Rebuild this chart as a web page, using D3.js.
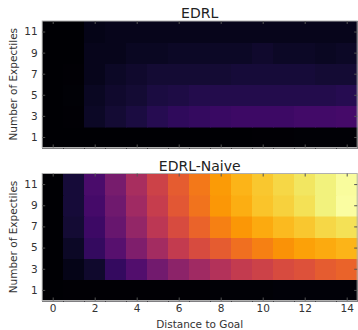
<!DOCTYPE html>
<html>
<head>
<meta charset="utf-8">
<script src="https://cdn.jsdelivr.net/npm/d3@7"></script>
<style>
  html, body { margin: 0; padding: 0; background: #fff; }
  svg { display: block; font-family: "DejaVu Sans", sans-serif; }
</style>
</head>
<body>
<svg id="chart" width="358" height="330"></svg>
<script>
// ---- data ----
const distances = [0,1,2,3,4,5,6,7,8,9,10,11,12,13,14];
const expectiles = [1,3,5,7,9,11];
const xTickValues = [0,2,4,6,8,10,12,14];
const yTickValues = [1,3,5,7,9,11];
const titles = ["EDRL", "EDRL-Naive"];

// EDRL: rows by number of expectiles (1,3,5,7,9,11), columns by distance 0..14
const edrl1  = [0,0,0,0,0,0,0,0,0,0,0.005,0.005,0.01,0.01,0.01];
const edrl3  = [0,0.005,0.07,0.09,0.11,0.14,0.16,0.17,0.18,0.19,0.19,0.19,0.2,0.2,0.21];
const edrl5  = [0,0.01,0.06,0.08,0.09,0.11,0.12,0.13,0.13,0.13,0.13,0.13,0.13,0.13,0.14];
const edrl7  = [0,0.005,0.05,0.07,0.08,0.09,0.09,0.09,0.09,0.1,0.1,0.1,0.1,0.09,0.09];
const edrl9  = [0,0,0.05,0.05,0.06,0.06,0.07,0.07,0.07,0.07,0.08,0.07,0.07,0.06,0.07];
const edrl11 = [0,0,0.04,0.05,0.05,0.05,0.05,0.05,0.05,0.05,0.05,0.05,0.05,0.05,0.05];

// EDRL-Naive
const naive1  = [0,0.005,0.005,0.005,0.005,0.005,0.005,0.005,0.01,0.01,0.01,0.015,0.015,0.015,0.015];
const naive3  = [0,0.04,0.08,0.17,0.24,0.32,0.38,0.43,0.48,0.52,0.55,0.58,0.6,0.63,0.65];
const naive5  = [0,0.07,0.17,0.25,0.35,0.44,0.52,0.58,0.63,0.68,0.72,0.76,0.79,0.81,0.83];
const naive7  = [0,0.09,0.19,0.29,0.4,0.5,0.58,0.65,0.72,0.77,0.81,0.84,0.87,0.9,0.92];
const naive9  = [0,0.1,0.21,0.31,0.43,0.53,0.62,0.69,0.77,0.82,0.86,0.89,0.92,0.96,0.995];
const naive11 = [0,0.1,0.22,0.33,0.45,0.55,0.63,0.7,0.78,0.83,0.87,0.9,0.93,0.96,0.99];

const edrlRows  = [edrl1, edrl3, edrl5, edrl7, edrl9, edrl11];
const naiveRows = [naive1, naive3, naive5, naive7, naive9, naive11];

// ---- build cells ----
function cells(rows) {
  const out = [];
  rows.forEach((row, i) => row.forEach((v, j) => out.push({ d: distances[j], e: expectiles[i], v })));
  return out;
}
const panels = [
  { title: titles[0], data: cells(edrlRows), top: 21, bottom: 147.5, showX: false },
  { title: titles[1], data: cells(naiveRows), top: 173.5, bottom: 300.5, showX: true }
];

const svg = d3.select("#chart");
const color = d3.scaleSequential(d3.interpolateInferno).domain([0, 1]);
const x = d3.scaleLinear().domain([-0.5, 14.5]).range([42.2, 357.2]);

panels.forEach(p => {
  const y = d3.scaleLinear().domain([0, 12]).range([p.bottom, p.top]);
  const g = svg.append("g");

  g.selectAll("rect.cell").data(p.data).join("rect")
    .attr("class", "cell")
    .attr("shape-rendering", "crispEdges")
    .attr("x", d => x(d.d - 0.5))
    .attr("width", d => x(d.d + 0.5) - x(d.d - 0.5) + 0.6)
    .attr("y", d => y(d.e + 1))
    .attr("height", d => y(d.e - 1) - y(d.e + 1) + 0.6)
    .attr("fill", d => color(d.v))
    .attr("stroke", d => color(d.v))
    .attr("stroke-width", 0.5);

  // frame
  g.append("rect")
    .attr("x", x.range()[0]).attr("y", p.top)
    .attr("width", x.range()[1] - x.range()[0]).attr("height", p.bottom - p.top)
    .attr("fill", "none").attr("stroke", "#b0b0b0").attr("stroke-width", 1);

  const styleAxis = sel => {
    sel.select(".domain").remove();
    sel.selectAll(".tick line").attr("stroke", "#555");
    sel.selectAll(".tick text").attr("fill", "#333").style("font-size", "10.5px")
      .style("font-family", "'DejaVu Sans', sans-serif");
  };

  g.append("g").attr("transform", `translate(0,${p.bottom})`)
    .call(d3.axisBottom(x).tickValues(xTickValues).tickSize(-3).tickPadding(4)
      .tickFormat(p.showX ? d3.format("d") : () => ""))
    .call(styleAxis);
  g.append("g").attr("transform", `translate(0,${p.top})`)
    .call(d3.axisTop(x).tickValues(xTickValues).tickSize(-3).tickFormat(() => ""))
    .call(styleAxis);
  g.append("g").attr("transform", `translate(${x.range()[0]},0)`)
    .call(d3.axisLeft(y).tickValues(yTickValues).tickSize(-3).tickPadding(4.5).tickFormat(d3.format("d")))
    .call(styleAxis);
  g.append("g").attr("transform", `translate(${x.range()[1]},0)`)
    .call(d3.axisRight(y).tickValues(yTickValues).tickSize(-3).tickFormat(() => ""))
    .call(styleAxis);

  g.append("text")
    .attr("x", (x.range()[0] + x.range()[1]) / 2).attr("y", p.top - 3)
    .attr("text-anchor", "middle").attr("fill", "#222").style("font-size", "14px")
    .text(p.title);

  g.append("text")
    .attr("transform", `translate(13.5,${(p.top + p.bottom) / 2}) rotate(-90)`)
    .attr("text-anchor", "middle").attr("dy", "0.35em").attr("fill", "#333").style("font-size", "10.5px")
    .text("Number of Expectiles");

  if (p.showX) {
    g.append("text")
      .attr("x", (x.range()[0] + x.range()[1]) / 2).attr("y", 327.5)
      .attr("text-anchor", "middle").attr("fill", "#333").style("font-size", "10.5px")
      .text("Distance to Goal");
  }
});
</script>
</body>
</html>
